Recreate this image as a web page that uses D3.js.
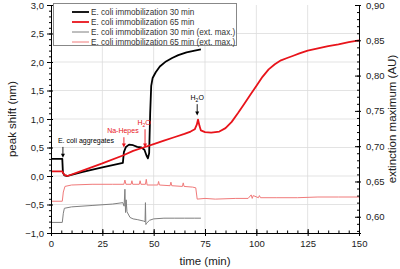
<!DOCTYPE html>
<html>
<head>
<meta charset="utf-8">
<script src="https://cdn.jsdelivr.net/npm/d3@7"></script>
<style>
  body { margin: 0; background: #fff; }
  svg text { font-family: "Liberation Sans", Arial, sans-serif; }
</style>
</head>
<body>
<div id="chart"></div>
<script>
// series: time in min, left axis = peak shift (nm),
// right axis = extinction maximum (AU)
let black30T = [0, 5.5, 5.8, 6.5, 8, 15, 25, 35, 35.5, 36.5, 38, 40, 42, 44, 45.5, 46.5, 47.2, 47.8, 48.3, 48.8, 49.5, 51, 53, 56, 59, 62, 66, 70, 73];
let black30V = [0.30, 0.30, 0.06, 0.01, 0.0, 0.07, 0.15, 0.23, 0.42, 0.51, 0.55, 0.54, 0.51, 0.50, 0.46, 0.36, 0.31, 0.40, 1.10, 1.58, 1.72, 1.82, 1.92, 2.01, 2.07, 2.12, 2.17, 2.20, 2.22];

let red65T = [0, 5.5, 6.5, 8, 15, 25, 35, 40, 45, 50, 55, 60, 65, 68, 70, 71, 71.6, 72.3, 73, 75, 78, 82, 85, 88, 91, 94, 97, 100, 103, 106, 109, 112, 115, 118, 121, 125, 130, 135, 140, 145, 150];
let red65V = [0.08, 0.08, 0.02, 0.0, 0.09, 0.22, 0.36, 0.44, 0.50, 0.56, 0.62, 0.68, 0.74, 0.78, 0.82, 0.90, 0.99, 0.88, 0.80, 0.77, 0.76, 0.78, 0.84, 0.95, 1.10, 1.26, 1.42, 1.58, 1.74, 1.87, 1.96, 2.03, 2.07, 2.11, 2.15, 2.20, 2.24, 2.28, 2.31, 2.35, 2.38];

let gray30T = [0, 5.5, 6, 6.5, 10, 20, 30, 35, 35.6, 36, 36.3, 36.6, 37, 38.5, 40, 42, 45, 45.8, 46, 46.2, 46.6, 48, 50, 55, 60, 65, 70, 73];
let gray30V = [0.592, 0.592, 0.605, 0.612, 0.614, 0.616, 0.618, 0.620, 0.615, 0.639, 0.606, 0.624, 0.607, 0.599, 0.597, 0.596, 0.594, 0.593, 0.620, 0.589, 0.591, 0.595, 0.597, 0.598, 0.598, 0.598, 0.598, 0.598];

let pink65T = [0, 5.5, 6, 6.8, 10, 20, 30, 35.5, 36, 36.5, 39, 39.4, 39.8, 43, 43.4, 43.8, 46, 46.4, 46.8, 50, 52, 52.4, 52.8, 58, 58.4, 58.8, 64, 64.4, 64.8, 69, 70.5, 71.2, 75, 80, 90, 96, 97.5, 98, 98.5, 101, 101.5, 102, 110, 120, 130, 140, 150];
let pink65V = [0.622, 0.622, 0.635, 0.643, 0.645, 0.646, 0.646, 0.646, 0.652, 0.646, 0.646, 0.651, 0.646, 0.646, 0.651, 0.646, 0.646, 0.653, 0.645, 0.645, 0.645, 0.650, 0.645, 0.644, 0.649, 0.644, 0.643, 0.648, 0.643, 0.642, 0.641, 0.625, 0.626, 0.625, 0.626, 0.626, 0.631, 0.626, 0.630, 0.627, 0.630, 0.627, 0.627, 0.627, 0.628, 0.628, 0.628];

let legendNames = ["E. coli immobilization 30 min", "E. coli immobilization 65 min",
                   "E. coli immobilization 30 min (ext. max.)", "E. coli immobilization 65 min (ext. max.)"];
let legendColors = ["#000000", "#e8141b", "#7f7f7f", "#f07a7a"];
let legendWidths = [1.8, 1.8, 1, 1];

// annotations: label, arrow time, arrow top value, arrow tip value, colour
let annLabels = ["E. coli aggregates", "Na-Hepes", "H2O", "H2O"];
let annT = [5.8, 35.5, 45.8, 71.2];
let annTop = [0.51, 0.68, 0.82, 1.26];
let annTip = [0.32, 0.50, 0.50, 1.06];
let annColors = ["#000", "#e8141b", "#e8141b", "#000"];

let width = 400, height = 269;
let svg = d3.select("#chart").append("svg")
  .attr("width", width)
  .attr("height", height);

let xScale = d3.scaleLinear().domain([0, 150]).range([51, 359]);
let yScale = d3.scaleLinear().domain([-1, 3]).range([233, 5]);
let y2Scale = d3.scaleLinear().domain([0.577, 0.90]).range([233, 5]);

let comma = f => (d => d3.format(f)(d).replace(".", ","));

// grid
svg.append("g").selectAll("line")
  .data([25, 50, 75, 100, 125])
  .enter().append("line")
  .attr("x1", d => xScale(d)).attr("x2", d => xScale(d))
  .attr("y1", 5).attr("y2", 233)
  .attr("stroke", "#dcdcdc").attr("stroke-width", 0.8);
svg.append("g").selectAll("line")
  .data([-0.5, 0, 0.5, 1, 1.5, 2, 2.5])
  .enter().append("line")
  .attr("x1", 51).attr("x2", 359)
  .attr("y1", d => yScale(d)).attr("y2", d => yScale(d))
  .attr("stroke", "#dcdcdc").attr("stroke-width", 0.8);

// series
let line = (ts, vs, ys) => d3.line()
  .x(i => xScale(ts[i]))
  .y(i => ys(vs[i]))(d3.range(ts.length));

svg.append("path").attr("d", line(pink65T, pink65V, y2Scale))
  .attr("fill", "none").attr("stroke", legendColors[3]).attr("stroke-width", 1);
svg.append("path").attr("d", line(gray30T, gray30V, y2Scale))
  .attr("fill", "none").attr("stroke", legendColors[2]).attr("stroke-width", 1);
svg.append("path").attr("d", line(black30T, black30V, yScale))
  .attr("fill", "none").attr("stroke", legendColors[0]).attr("stroke-width", 1.8)
  .attr("stroke-linejoin", "round");
svg.append("path").attr("d", line(red65T, red65V, yScale))
  .attr("fill", "none").attr("stroke", legendColors[1]).attr("stroke-width", 1.8)
  .attr("stroke-linejoin", "round");

// axes
let styleAxis = g => {
  g.select(".domain").attr("stroke", "#000");
  g.selectAll(".tick line").attr("stroke", "#000");
  g.selectAll("text").attr("font-size", 9.5).attr("fill", "#222")
    .style("font-family", "'Liberation Sans', Arial, sans-serif");
};

svg.append("g").attr("transform", "translate(0,233)")
  .call(d3.axisBottom(xScale).tickValues(d3.range(0, 151, 5)).tickSize(-2.5).tickFormat(""))
  .call(styleAxis);
svg.append("g").attr("transform", "translate(0,233)")
  .call(d3.axisBottom(xScale).tickValues(d3.range(0, 151, 25)).tickSize(3).tickPadding(4))
  .call(styleAxis);
svg.append("g").attr("transform", "translate(0,233)")
  .call(d3.axisBottom(xScale).tickValues(d3.range(0, 151, 25)).tickSize(-4).tickFormat(""))
  .call(g => g.select(".domain").remove())
  .call(styleAxis);

svg.append("g").attr("transform", "translate(51,0)")
  .call(d3.axisLeft(yScale).tickValues(d3.range(-1, 3.01, 0.1)).tickSize(2).tickFormat(""))
  .call(styleAxis);
svg.append("g").attr("transform", "translate(51,0)")
  .call(d3.axisLeft(yScale).tickValues(d3.range(-1, 3.01, 0.5)).tickSize(4).tickPadding(3).tickFormat(comma(".1f")))
  .call(styleAxis);
svg.append("g").attr("transform", "translate(51,0)")
  .call(d3.axisRight(yScale).tickValues(d3.range(-1, 3.01, 0.5)).tickSize(2).tickFormat(""))
  .call(g => g.select(".domain").remove())
  .call(styleAxis);

svg.append("g").attr("transform", "translate(359,0)")
  .call(d3.axisLeft(y2Scale).tickValues(d3.range(0.58, 0.901, 0.01)).tickSize(2).tickFormat(""))
  .call(styleAxis);
svg.append("g").attr("transform", "translate(359,0)")
  .call(d3.axisRight(y2Scale).tickValues([0.60, 0.65, 0.70, 0.75, 0.80, 0.85, 0.90]).tickSize(2).tickPadding(5).tickFormat(comma(".2f")))
  .call(styleAxis);
svg.append("g").attr("transform", "translate(359,0)")
  .call(d3.axisLeft(y2Scale).tickValues([0.60, 0.65, 0.70, 0.75, 0.80, 0.85, 0.90]).tickSize(4).tickFormat(""))
  .call(g => g.select(".domain").remove())
  .call(styleAxis);

// axis titles
svg.append("text")
  .attr("x", 205).attr("y", 265)
  .attr("text-anchor", "middle").attr("font-size", 11.5).attr("fill", "#222")
  .text("time (min)");
svg.append("text")
  .attr("transform", "translate(16,119) rotate(-90)")
  .attr("text-anchor", "middle").attr("font-size", 11.5).attr("fill", "#222")
  .text("peak shift (nm)");
svg.append("text")
  .attr("transform", "translate(396,119) rotate(-90)")
  .attr("text-anchor", "middle").attr("font-size", 11.5).attr("fill", "#222")
  .text("extinction maximum (AU)");

// legend
let legend = svg.append("g");
legend.append("rect")
  .attr("x", 53.5).attr("y", 3.5).attr("width", 183).attr("height", 42)
  .attr("fill", "#fff").attr("stroke", "#888").attr("stroke-width", 1);
legendNames.forEach((name, i) => {
  let yy = 12 + i * 10;
  legend.append("line")
    .attr("x1", 72).attr("x2", 89).attr("y1", yy).attr("y2", yy)
    .attr("stroke", legendColors[i]).attr("stroke-width", legendWidths[i]);
  legend.append("text")
    .attr("x", 91).attr("y", yy + 3)
    .attr("font-size", 8.2).attr("fill", "#333")
    .text(name);
});

// annotations
let ann = svg.append("g");
annLabels.forEach((label, i) => {
  let x = xScale(annT[i]);
  let y0 = yScale(annTop[i]);
  let y1 = yScale(annTip[i]);
  ann.append("line")
    .attr("x1", x).attr("x2", x).attr("y1", y0).attr("y2", y1 - 3)
    .attr("stroke", annColors[i]).attr("stroke-width", 0.9);
  ann.append("path")
    .attr("d", `M${x - 2},${y1 - 4} L${x + 2},${y1 - 4} L${x},${y1} Z`)
    .attr("fill", annColors[i]);
  let t = ann.append("text")
    .attr("y", y0 - 4)
    .attr("font-size", 7).attr("fill", annColors[i]);
  if (label === "H2O") {
    t.attr("x", i === 2 ? x - 1 : x).attr("text-anchor", "middle");
    t.append("tspan").text("H");
    t.append("tspan").attr("dy", 2).attr("font-size", 5).text("2");
    t.append("tspan").attr("dy", -2).text("O");
  } else if (i === 0) {
    t.attr("x", x - 5).attr("text-anchor", "start").text(label);
  } else {
    t.attr("x", x - 1).attr("text-anchor", "middle").text(label);
  }
});
</script>
</body>
</html>
